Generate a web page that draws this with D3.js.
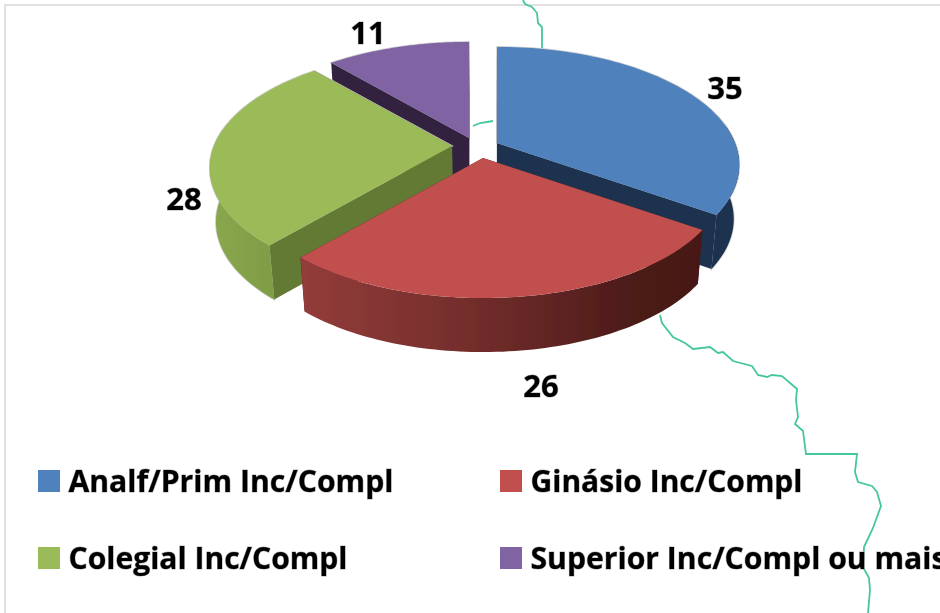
<!DOCTYPE html>
<html><head><meta charset="utf-8">
<script src="https://cdn.jsdelivr.net/npm/d3@7"></script>
<style>html,body{margin:0;padding:0;background:#fff;overflow:hidden}svg{display:block}
text{font-family:"Open Sans",sans-serif;fill:#000;paint-order:stroke;stroke:#b0b0b0;stroke-width:1px}</style></head>
<body><div id="c"></div>
<script>
const categories = ["Analf/Prim Inc/Compl","Ginásio Inc/Compl","Colegial Inc/Compl","Superior Inc/Compl ou mais"];
const values = [35,26,28,11];
const topColors = ["#4f81bd","#c0504d","#9bbb59","#8064a2"];
const cutColors = ["#1b3350","#4a1a18","#647a36","#33233f"];
const borderTop = [[523,0],[525,4],[532,7],[537,13],[538,23],[542,27],[542,48]];
const borderGap = [[473,126],[480,123],[493,121]];
const borderLow = [[660,315],[662,323],[673,337],[685,343],[693,349],[710,347],[718,353],[723,352],[733,361],[752,366],[758,375],[767,377],[772,375],[782,376],[797,389],[796,400],[798,417],[795,424],[803,431],[806,454],[857,454],[855,472],[858,482],[872,486],[877,492],[881,506],[873,528],[864,547],[863,567],[869,578],[870,590],[868,613]];

const W=940,H=613;
const svg=d3.select("#c").append("svg").attr("width",W).attr("height",H);
const defs=svg.append("defs");
defs.append("filter").attr("id","soft").attr("x","-5%").attr("y","-5%").attr("width","110%").attr("height","110%")
  .append("feGaussianBlur").attr("stdDeviation",0.55);
const g0=svg.append("g").attr("filter","url(#soft)");
g0.append("rect").attr("width",W).attr("height",H).attr("fill","#fff");
g0.append("path").attr("d","M940,5H5V613").attr("fill","none").attr("stroke","#d8d8d8").attr("stroke-width",1.5);

const mapLine=d3.line().curve(d3.curveLinear);
[borderTop,borderGap,borderLow].forEach(b=>g0.append("path").attr("d",mapLine(b)).attr("fill","none").attr("stroke","#45c79c").attr("stroke-width",1.8));

// perspective projection of the pie's unit circle
const persp=0.186, warp=0.03, xS=d3.scaleLinear().domain([-1,1]).range([-238,238]), yS=d3.scaleLinear().domain([-1,1]).range([-114,114]);
const depth=54, vanishX=490, converge=0.978;
function proj(a0,c){const a=a0+warp*Math.sin(2*a0),u=Math.sin(a),v=-Math.cos(a),d=1-persp*v;return [c[0]+xS(u)/d,c[1]+yS(v)/d];}
const low=p=>[vanishX+(p[0]-vanishX)*converge,p[1]+depth];
const apex=[[497,143],[483,158],[452,146],[469,138]];
const arcs=d3.pie().sort(null).value(d=>d)(values);
const line=d3.line();

function grad(id,x1,x2,stops){
  const g=defs.append("linearGradient").attr("id",id).attr("gradientUnits","userSpaceOnUse").attr("x1",x1).attr("x2",x2).attr("y1",0).attr("y2",0);
  stops.forEach(s=>g.append("stop").attr("offset",s[0]).attr("stop-color",s[1]));
}
grad("w0",690,745,[[0,"#1b3350"],[1,"#1b3350"]]);
grad("w1",303,705,[[0,"#933c3a"],[0.45,"#702c2a"],[0.85,"#4a1a18"],[1,"#471917"]]);
grad("w2",208,285,[[0,"#8aa84e"],[1,"#7d9a44"]]);
grad("w3",330,470,[[0,"#33233f"],[1,"#33233f"]]);

const lo=80*Math.PI/180, hi=280*Math.PI/180;
function slice(i){
  const s=arcs[i],c=apex[i],n=80,g=g0.append("g");
  const at=k=>s.startAngle+(s.endAngle-s.startAngle)*k/n;
  const pts=d3.range(n+1).map(k=>proj(at(k),c));
  const w=d3.range(n+1).filter(k=>at(k)>=lo&&at(k)<=hi).map(k=>proj(at(k),c));
  const wallD=w.length>1?line(w.concat(w.slice().reverse().map(low)))+"Z":null;
  const topD=line([c].concat(pts))+"Z";
  // pale halo outside the silhouette (not on the red slice)
  if(i!==1){
    g.append("path").attr("d",topD).attr("fill","none").attr("stroke","#cfcfcf").attr("stroke-width",1.6);
    if(wallD) g.append("path").attr("d",wallD).attr("fill","none").attr("stroke","#cfcfcf").attr("stroke-width",1.6);
  }
  // cut faces
  [pts[0],pts[n]].forEach(e=>g.append("path").attr("d",line([c,e,low(e),low(c)])+"Z").attr("fill",cutColors[i]));
  // outer wall (only the part facing the viewer)
  if(wallD) g.append("path").attr("d",wallD).attr("fill",`url(#w${i})`);
  // top
  g.append("path").attr("d",topD).attr("fill",topColors[i]);
}
[0,3,2,1].forEach(slice);

const labelPos=[[725,99],[541,397],[184,210],[368,44]];
values.forEach((v,i)=>g0.append("text").attr("x",labelPos[i][0]).attr("y",labelPos[i][1]).attr("text-anchor","middle")
  .attr("font-size",31).attr("font-weight",700).text(v));

const legPos=[[38,470,325],[500,470,272],[38,547,279],[500,547,416]];
categories.forEach((t,i)=>{
  const p=legPos[i];
  g0.append("rect").attr("x",p[0]).attr("y",p[1]).attr("width",22).attr("height",22).attr("fill",topColors[i]);
  g0.append("text").attr("x",p[0]+30.5).attr("y",p[1]+22).attr("font-size",31).attr("font-weight",700)
    .attr("textLength",p[2]).attr("lengthAdjust","spacingAndGlyphs").text(t);
});
</script></body></html>
